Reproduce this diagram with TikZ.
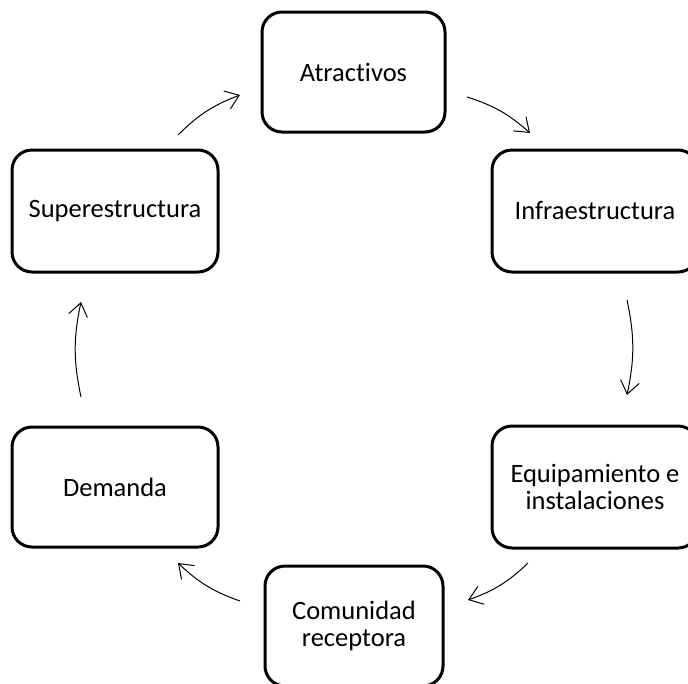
\documentclass[tikz,border=0pt]{standalone}
\usepackage{fontspec}
\setmainfont[Ligatures=NoCommon]{Carlito}
\usetikzlibrary{arrows.meta}
\tikzset{
  stagebox/.style={draw, line width=3pt, rounded corners=20pt, inner sep=0pt,
    align=center, font=\fontsize{26.5}{27}\selectfont},
  cyclearrow/.style={-{Straight Barb[length=13pt,width=19pt,line width=1pt]}, line width=1pt, bend left=12}
}
\begin{document}
\begin{tikzpicture}[x=1pt,y=-1pt]
\useasboundingbox (0,0) rectangle (688,683);
\node[stagebox, minimum width=183pt, minimum height=120pt] (atr) at (353.5,72) {Atractivos};
\node[stagebox, minimum width=206pt, minimum height=122pt] (inf) at (595,211) {Infraestructura};
\node[stagebox, minimum width=206pt, minimum height=122pt] (equ) at (595,487) {Equipamiento e\\instalaciones};
\node[stagebox, minimum width=178pt, minimum height=120pt] (com) at (354,626) {Comunidad\\receptora};
\node[stagebox, minimum width=206pt, minimum height=120pt] (dem) at (115,487) {Demanda};
\node[stagebox, minimum width=206pt, minimum height=122pt] (sup) at (115,211) {Superestructura};
\coordinate (a1s) at (178,135); \coordinate (a1e) at (240,95);
\coordinate (a2s) at (467,97);  \coordinate (a2e) at (530,133);
\coordinate (a3s) at (627,300); \coordinate (a3e) at (627,395);
\coordinate (a4s) at (528,563); \coordinate (a4e) at (468,600);
\coordinate (a5s) at (240,601); \coordinate (a5e) at (178,563);
\coordinate (a6s) at (81,397);  \coordinate (a6e) at (81,302);
\draw[cyclearrow] (a1s) to (a1e);
\draw[cyclearrow] (a2s) to (a2e);
\draw[cyclearrow] (a3s) to (a3e);
\draw[cyclearrow] (a4s) to (a4e);
\draw[cyclearrow] (a5s) to (a5e);
\draw[cyclearrow] (a6s) to (a6e);
\end{tikzpicture}
\end{document}
